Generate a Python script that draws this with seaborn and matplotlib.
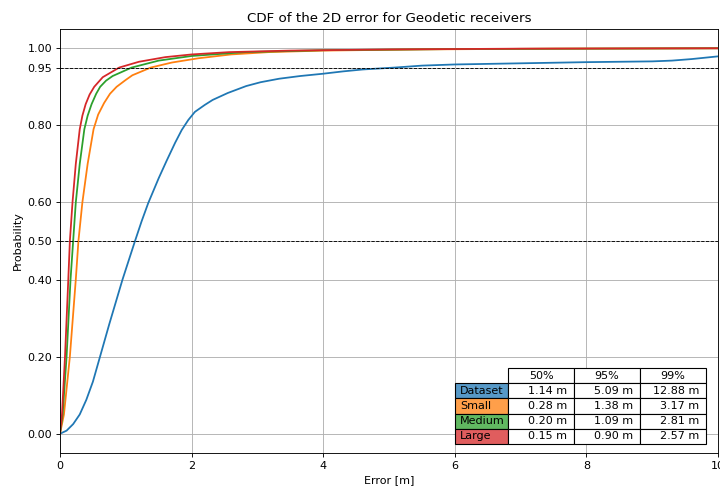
import matplotlib
matplotlib.use("Agg")
import matplotlib.pyplot as plt
import seaborn as sns
import pandas as pd
import numpy as np

# ---- data ----
dataset_x = [0, 0.1, 0.2, 0.3, 0.4, 0.5, 0.6, 0.75, 0.95, 1.14, 1.24, 1.34, 1.5, 1.62,
             1.75, 1.85, 1.95, 2.05, 2.2, 2.32, 2.55, 2.83, 3.05, 3.33, 3.65, 4.0, 4.3,
             4.6, 5.09, 5.5, 6.0, 7.0, 8.0, 9.0, 9.3, 9.6, 10.0]
dataset_y = [0, 0.008, 0.025, 0.05, 0.088, 0.135, 0.195, 0.285, 0.4, 0.5, 0.551, 0.598,
             0.663, 0.708, 0.755, 0.788, 0.814, 0.835, 0.853, 0.866, 0.884, 0.902,
             0.912, 0.921, 0.928, 0.934, 0.94, 0.945, 0.95, 0.955, 0.958, 0.961, 0.964,
             0.966, 0.968, 0.972, 0.979]

small_x = [0, 0.06, 0.15, 0.24, 0.28, 0.34, 0.42, 0.51, 0.58, 0.67, 0.76, 0.86, 1.0,
           1.1, 1.38, 1.7, 2.1, 2.6, 3.17, 4.0, 5.5, 7.5, 10.0]
small_y = [0, 0.05, 0.2, 0.4, 0.5, 0.6, 0.7, 0.79, 0.828, 0.858, 0.882, 0.9, 0.918,
           0.93, 0.95, 0.963, 0.974, 0.984, 0.99, 0.994, 0.997, 0.999, 1.0]

medium_x = [0, 0.04, 0.10, 0.16, 0.20, 0.24, 0.30, 0.37, 0.42, 0.48, 0.55, 0.61, 0.70,
            0.80, 1.09, 1.5, 2.0, 2.81, 4.0, 6.0, 10.0]
medium_y = [0, 0.05, 0.2, 0.4, 0.5, 0.6, 0.7, 0.79, 0.825, 0.855, 0.882, 0.9, 0.916,
            0.928, 0.95, 0.968, 0.98, 0.99, 0.995, 0.998, 1.0]

large_x = [0, 0.03, 0.076, 0.126, 0.15, 0.19, 0.24, 0.30, 0.34, 0.39, 0.45, 0.52, 0.65,
           0.90, 1.2, 1.6, 2.0, 2.57, 3.5, 5.0, 7.0, 10.0]
large_y = [0, 0.05, 0.2, 0.4, 0.5, 0.6, 0.7, 0.79, 0.825, 0.855, 0.88, 0.9, 0.925,
           0.95, 0.965, 0.977, 0.984, 0.99, 0.994, 0.997, 0.999, 1.0]

series_names = ["Dataset", "Small", "Medium", "Large"]
col_labels = ["50%", "95%", "99%"]
table_text = [["1.14 m", "5.09 m", "12.88 m"],
              ["0.28 m", "1.38 m", "3.17 m"],
              ["0.20 m", "1.09 m", "2.81 m"],
              ["0.15 m", "0.90 m", "2.57 m"]]
ref_levels = [0.95, 0.5]
y_ticks = [0.0, 0.2, 0.4, 0.5, 0.6, 0.8, 0.95, 1.0]

colors = ["#1f77b4", "#ff7f0e", "#2ca02c", "#d62728"]

frames = []
for name, xs, ys in zip(series_names,
                        [dataset_x, small_x, medium_x, large_x],
                        [dataset_y, small_y, medium_y, large_y]):
    frames.append(pd.DataFrame({"Error": xs, "Probability": ys, "Series": name}))
df = pd.concat(frames, ignore_index=True)

fig = plt.figure(figsize=(9.0, 6.075), dpi=80)
ax = fig.add_axes([60 / 720, (486 - 453) / 486, 658 / 720, 424 / 486])

sns.lineplot(data=df, x="Error", y="Probability", hue="Series",
             palette=dict(zip(series_names, colors)), estimator=None,
             sort=False, legend=False, linewidth=1.6, ax=ax)

for lv in ref_levels:
    ax.axhline(lv, color="black", linestyle="--", linewidth=0.8, zorder=3)

ax.set_xlim(0, 10)
ax.set_ylim(-0.05, 1.05)
ax.set_yticks(y_ticks)
ax.set_yticklabels([f"{v:.2f}" for v in y_ticks])
ax.set_xticks([0, 2, 4, 6, 8, 10])
ax.grid(True, color="#b0b0b0", linewidth=0.8)
ax.set_axisbelow(True)
ax.set_title("CDF of the 2D error for Geodetic receivers", fontsize=12)
ax.set_xlabel("Error [m]", fontsize=10)
ax.set_ylabel("Probability", fontsize=10)


def blend(hexcol, a=0.75):
    r, g, b = matplotlib.colors.to_rgb(hexcol)
    return (a * r + (1 - a), a * g + (1 - a), a * b + (1 - a))


tbl = ax.table(cellText=table_text, rowLabels=series_names, colLabels=col_labels,
               rowColours=[blend(c) for c in colors],
               bbox=[(508 - 60) / 658, 9 / 424, 198 / 658, 76 / 424], zorder=5)
tbl.auto_set_font_size(False)
tbl.set_fontsize(10)
tbl._autoColumns = []
for (r, c), cell in tbl.get_celld().items():
    cell.set_width((53.0 if c == -1 else 66.0) / 658)
    cell.set_height(15.0 / 424)

fig.savefig("out.png", dpi=80)
